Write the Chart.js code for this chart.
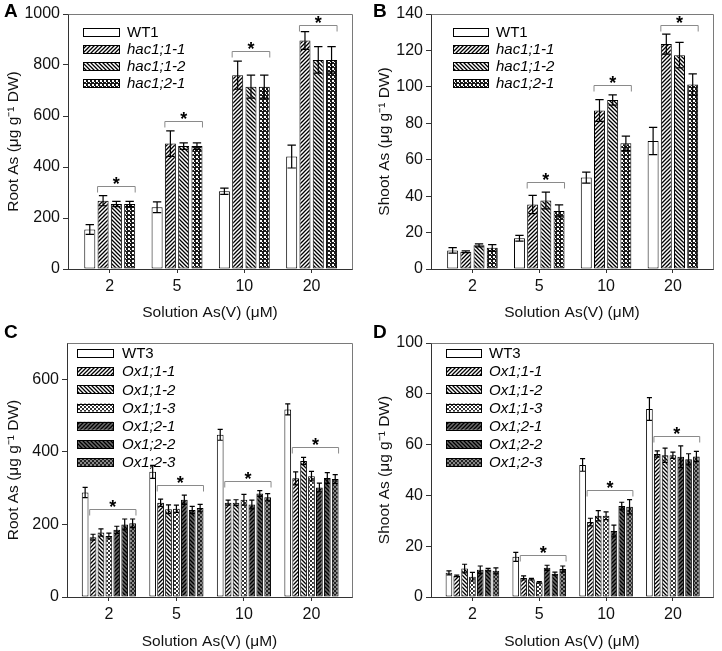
<!DOCTYPE html>
<html><head><meta charset="utf-8">
<script src="https://cdn.jsdelivr.net/npm/chart.js@4.4.1/dist/chart.umd.min.js"></script>
<style>
html,body{margin:0;padding:0;background:#fff;}
#wrap{position:relative;width:722px;height:651px;overflow:hidden;background:#fff;}
canvas{position:absolute;}
.lbl{position:absolute;font:bold 19px "Liberation Sans",Arial,sans-serif;color:#000;line-height:22px;}
</style></head><body>
<div id="wrap">
<canvas id="cA" width="361" height="322" style="left:0;top:0"></canvas>
<canvas id="cB" width="361" height="322" style="left:361px;top:0"></canvas>
<canvas id="cC" width="361" height="329" style="left:0;top:322px"></canvas>
<canvas id="cD" width="361" height="329" style="left:361px;top:322px"></canvas>
<div class="lbl" style="left:4px;top:0px">A</div>
<div class="lbl" style="left:373px;top:0px">B</div>
<div class="lbl" style="left:4px;top:321px">C</div>
<div class="lbl" style="left:373px;top:321px">D</div>
</div>
<script>
// ---------- data ----------
const CATEGORIES = ['2', '5', '10', '20'];
const X_TITLE = 'Solution As(V) (μM)';

// Panel A: Root As, hac1 lines
const A_NAMES = ['WT1', 'hac1;1-1', 'hac1;1-2', 'hac1;2-1'];
const A_WT1 = [155, 242, 305, 441];
const A_WT1_ERR = [19, 21, 12, 45];
const A_H11 = [268, 492, 760, 896];
const A_H11_ERR = [20, 50, 55, 35];
const A_H12 = [255, 482, 715, 820];
const A_H12_ERR = [10, 13, 45, 52];
const A_H21 = [255, 482, 715, 820];
const A_H21_ERR = [10, 13, 45, 52];
const A_SIG = [true, true, true, true];

// Panel B: Shoot As, hac1 lines
const B_NAMES = ['WT1', 'hac1;1-1', 'hac1;1-2', 'hac1;2-1'];
const B_WT1 = [10.2, 16.9, 50.2, 70.3];
const B_WT1_ERR = [1.5, 1.6, 3, 7.5];
const B_H11 = [9.5, 35.4, 87, 123.5];
const B_H11_ERR = [0.5, 5, 6, 5.5];
const B_H12 = [13, 37.6, 92.8, 117.4];
const B_H12_ERR = [0.8, 4.6, 2.8, 7];
const B_H21 = [11.6, 31.9, 69, 101.3];
const B_H21_ERR = [1.8, 3.3, 4, 5.8];
const B_SIG = [false, true, true, true];

// Panel C: Root As, Ox1 lines
const C_NAMES = ['WT3', 'Ox1;1-1', 'Ox1;1-2', 'Ox1;1-3', 'Ox1;2-1', 'Ox1;2-2', 'Ox1;2-3'];
const C_WT3 = [288, 345, 447, 517];
const C_WT3_ERR = [14, 18, 15, 15];
const C_O11 = [165, 260, 260, 327];
const C_O11_ERR = [8, 10, 7, 18];
const C_O12 = [178, 242, 260, 375];
const C_O12_ERR = [10, 12, 8, 10];
const C_O13 = [168, 243, 268, 333];
const C_O13_ERR = [8, 10, 15, 13];
const C_O21 = [185, 268, 255, 302];
const C_O21_ERR = [10, 13, 12, 12];
const C_O22 = [200, 240, 285, 328];
const C_O22_ERR = [15, 10, 8, 15];
const C_O23 = [203, 245, 275, 325];
const C_O23_ERR = [12, 10, 10, 12];
const C_SIG = [true, true, true, true];

// Panel D: Shoot As, Ox1 lines
const D_NAMES = ['WT3', 'Ox1;1-1', 'Ox1;1-2', 'Ox1;1-3', 'Ox1;2-1', 'Ox1;2-2', 'Ox1;2-3'];
const D_WT3 = [9.5, 15.8, 52, 74];
const D_WT3_ERR = [0.8, 1.8, 2.5, 4.5];
const D_O11 = [8.3, 7.5, 29.5, 56.3];
const D_O11_ERR = [0.3, 0.8, 1.5, 1.2];
const D_O12 = [11.2, 7, 32, 55.8];
const D_O12_ERR = [1.7, 0.3, 2, 2.8];
const D_O13 = [8, 5.8, 32, 55.8];
const D_O13_ERR = [1.7, 0.3, 1.5, 1.2];
const D_O21 = [10.7, 11.5, 26, 55.2];
const D_O21_ERR = [1.5, 1, 2.3, 4.3];
const D_O22 = [10.8, 9.2, 35.8, 54.2];
const D_O22_ERR = [0.5, 0.6, 1.5, 2.2];
const D_O23 = [10.3, 11, 35.5, 55.3];
const D_O23_ERR = [1.2, 1.2, 2.8, 2];
const D_SIG = [false, true, true, true];

// ---------- patterns ----------
const FONT = '"Liberation Sans", Arial, Helvetica, sans-serif';
function makePattern(kind) {
  const c = document.createElement('canvas');
  const s = 4;
  c.width = s; c.height = s;
  const g = c.getContext('2d');
  const dark = kind.endsWith('Dark');
  g.fillStyle = dark ? '#6a6a6a' : '#ffffff';
  g.fillRect(0, 0, s, s);
  if (kind === 'solid') return g.createPattern(c, 'repeat');
  g.strokeStyle = '#000';
  g.lineWidth = 1.3;
  if (kind.startsWith('fwd')) {
    g.beginPath();
    g.moveTo(-1, s + 1); g.lineTo(s + 1, -1);
    g.moveTo(-1, 1); g.lineTo(1, -1);
    g.moveTo(s - 1, s + 1); g.lineTo(s + 1, s - 1);
    g.stroke();
  } else if (kind.startsWith('back')) {
    g.beginPath();
    g.moveTo(-1, -1); g.lineTo(s + 1, s + 1);
    g.moveTo(s - 1, -1); g.lineTo(s + 1, 1);
    g.moveTo(-1, s - 1); g.lineTo(1, s + 1);
    g.stroke();
  } else if (kind === 'checkBlack') {
    g.fillStyle = '#1a1a1a'; g.fillRect(0, 0, s, s);
    g.fillStyle = '#fff'; g.fillRect(0, 0, 2, 2); g.fillRect(2, 2, 1, 1);
  } else if (kind === 'checkDark') {
    g.fillStyle = '#222'; g.fillRect(0, 0, s, s);
    g.fillStyle = '#888'; g.fillRect(0, 0, 2, 2); g.fillRect(2, 2, 2, 2);
  } else if (kind === 'check') {
    g.fillStyle = '#333'; g.fillRect(0, 0, 2, 2); g.fillRect(2, 2, 2, 2);
  }
  return g.createPattern(c, 'repeat');
}

// ---------- plugins ----------
const framePlugin = {
  id: 'frame',
  afterDraw(chart) {
    const { ctx, chartArea: a } = chart;
    ctx.save();
    ctx.strokeStyle = '#7a7a7a'; ctx.lineWidth = 1;
    ctx.beginPath();
    ctx.moveTo(Math.round(a.left) + 0.5, Math.round(a.top) + 0.5);
    ctx.lineTo(Math.round(a.right) + 0.5, Math.round(a.top) + 0.5);
    ctx.lineTo(Math.round(a.right) + 0.5, Math.round(a.bottom) + 0.5);
    ctx.stroke();
    ctx.restore();
  }
};

const errorBarPlugin = {
  id: 'errbars',
  afterDatasetsDraw(chart) {
    const ctx = chart.ctx, ys = chart.scales.y;
    chart.data.datasets.forEach((ds, di) => {
      const meta = chart.getDatasetMeta(di);
      meta.data.forEach((el, i) => {
        const v = ds.data[i].y, e = ds.errors[i];
        const t = ys.getPixelForValue(v + e), b = ys.getPixelForValue(v - e);
        const hw = el.width * 0.38;
        ctx.save();
        ctx.strokeStyle = '#000'; ctx.lineWidth = 1.2;
        ctx.beginPath();
        ctx.moveTo(el.x, t); ctx.lineTo(el.x, b);
        ctx.moveTo(el.x - hw, t); ctx.lineTo(el.x + hw, t);
        ctx.moveTo(el.x - hw, b); ctx.lineTo(el.x + hw, b);
        ctx.stroke();
        ctx.restore();
      });
    });
  }
};

const bracketPlugin = {
  id: 'sigBrackets',
  afterDatasetsDraw(chart, args, opts) {
    const ctx = chart.ctx, ys = chart.scales.y, area = chart.chartArea;
    (opts.show || []).forEach((on, i) => {
      if (!on) return;
      let left = Infinity, right = -Infinity, top = Infinity;
      chart.data.datasets.forEach((ds, di) => {
        if (di === 0) return;
        const el = chart.getDatasetMeta(di).data[i];
        left = Math.min(left, el.x - el.width / 2);
        right = Math.max(right, el.x + el.width / 2);
        top = Math.min(top, ys.getPixelForValue(ds.data[i].y + ds.errors[i]));
      });
      const y = Math.round(Math.max(area.top + 11, top - 10)) + 0.5;
      ctx.save();
      ctx.strokeStyle = '#8a8a8a'; ctx.lineWidth = 1;
      ctx.beginPath();
      ctx.moveTo(left, y + 6); ctx.lineTo(left, y); ctx.lineTo(right, y); ctx.lineTo(right, y + 6);
      ctx.stroke();
      ctx.fillStyle = '#000';
      ctx.font = 'bold 18px ' + FONT;
      ctx.textAlign = 'center'; ctx.textBaseline = 'alphabetic';
      ctx.fillText('*', (left + right) / 2, y + 3);
      ctx.restore();
    });
  }
};

const panelLegendPlugin = {
  id: 'panelLegend',
  afterDraw(chart, args, o) {
    const ctx = chart.ctx;
    chart.data.datasets.forEach((ds, i) => {
      const cy = o.y0 + i * o.step;
      ctx.save();
      ctx.fillStyle = ds.backgroundColor;
      ctx.fillRect(o.x, cy - o.boxH / 2, o.boxW, o.boxH);
      ctx.strokeStyle = '#000'; ctx.lineWidth = 1;
      ctx.strokeRect(o.x + 0.5, Math.round(cy - o.boxH / 2) + 0.5, o.boxW, o.boxH);
      ctx.fillStyle = '#000';
      ctx.font = (i === 0 ? '' : 'italic ') + '15px ' + FONT;
      ctx.textAlign = 'left'; ctx.textBaseline = 'middle';
      ctx.fillText(ds.label, o.x + o.boxW + o.gap, cy + 1);
      ctx.restore();
    });
  }
};

// ---------- chart builder ----------
function buildChart(id, cfg) {
  const datasets = cfg.names.map((name, k) => ({
    label: name,
    data: cfg.values[k].map((v, i) => ({ x: i + 1, y: v })),
    errors: cfg.errors[k],
    backgroundColor: makePattern(cfg.patterns[k]),
    borderColor: '#000',
    borderWidth: 1,
    borderSkipped: false,
    categoryPercentage: cfg.catPct,
    barPercentage: cfg.barPct
  }));
  return new Chart(document.getElementById(id), {
    type: 'bar',
    data: { datasets },
    plugins: [framePlugin, errorBarPlugin, bracketPlugin, panelLegendPlugin],
    options: {
      responsive: false, animation: false, devicePixelRatio: 1, events: [],
      layout: { padding: { top: cfg.padTop, right: 9, left: 0, bottom: 0 } },
      plugins: {
        legend: { display: false }, tooltip: { enabled: false },
        sigBrackets: { show: cfg.sig },
        panelLegend: cfg.legend
      },
      scales: {
        x: {
          type: 'linear', min: 0.38, max: 4.6, offset: false,
          afterBuildTicks: (s) => { s.ticks = CATEGORIES.map((c, i) => ({ value: i + 1 })); },
          afterFit: (s) => { s.height = cfg.xHeight; },
          ticks: { callback: (v) => CATEGORIES[v - 1], color: '#111', font: { family: FONT, size: 16 }, padding: 4, maxRotation: 0 },
          grid: { display: true, drawOnChartArea: false, drawTicks: true, tickLength: 4, color: '#333', offset: false },
          border: { display: true, color: '#333', width: 1 },
          title: { display: true, text: X_TITLE, color: '#111', font: { family: FONT, size: 15.5 }, padding: { top: 0, bottom: 0 } }
        },
        y: {
          min: 0, max: cfg.yMax,
          afterFit: (s) => { s.width = cfg.yWidth; },
          ticks: { stepSize: cfg.yStep, includeBounds: false, callback: (v) => String(v), color: '#111', font: { family: FONT, size: 16 }, padding: 3 },
          grid: { display: true, drawOnChartArea: false, drawTicks: true, tickLength: 5, color: '#333' },
          border: { display: true, color: '#333', width: 1 },
          title: { display: true, text: cfg.yTitle, color: '#111', font: { family: FONT, size: 15.5 }, padding: { top: cfg.yTitlePad, bottom: 0 } }
        }
      }
    }
  });
}

const HAC_PATTERNS = ['solid', 'fwd', 'back', 'checkBlack'];
const OX_PATTERNS = ['solid', 'fwd', 'back', 'check', 'fwdDark', 'backDark', 'checkDark'];

buildChart('cA', {
  names: A_NAMES, values: [A_WT1, A_H11, A_H12, A_H21], errors: [A_WT1_ERR, A_H11_ERR, A_H12_ERR, A_H21_ERR],
  patterns: HAC_PATTERNS, sig: A_SIG, catPct: 0.79, barPct: 0.83,
  yMax: 1000, yStep: 200, yTitle: 'Root As (μg g⁻¹ DW)', yTitlePad: 4, yWidth: 68,
  padTop: 14, xHeight: 53,
  legend: { x: 83, y0: 32, step: 17, boxW: 36, boxH: 8, gap: 8 }
});
buildChart('cB', {
  names: B_NAMES, values: [B_WT1, B_H11, B_H12, B_H21], errors: [B_WT1_ERR, B_H11_ERR, B_H12_ERR, B_H21_ERR],
  patterns: HAC_PATTERNS, sig: B_SIG, catPct: 0.79, barPct: 0.83,
  yMax: 140, yStep: 20, yTitle: 'Shoot As (μg g⁻¹ DW)', yTitlePad: 14, yWidth: 70,
  padTop: 14, xHeight: 53,
  legend: { x: 92, y0: 32, step: 17, boxW: 35, boxH: 8, gap: 8 }
});
buildChart('cC', {
  names: C_NAMES, values: [C_WT3, C_O11, C_O12, C_O13, C_O21, C_O22, C_O23],
  errors: [C_WT3_ERR, C_O11_ERR, C_O12_ERR, C_O13_ERR, C_O21_ERR, C_O22_ERR, C_O23_ERR],
  patterns: OX_PATTERNS, sig: C_SIG, catPct: 0.82, barPct: 0.85,
  yMax: 700, yStep: 200, yTitle: 'Root As (μg g⁻¹ DW)', yTitlePad: 4, yWidth: 67,
  padTop: 21, xHeight: 54,
  legend: { x: 77, y0: 31, step: 18.2, boxW: 36, boxH: 8, gap: 9 }
});
buildChart('cD', {
  names: D_NAMES, values: [D_WT3, D_O11, D_O12, D_O13, D_O21, D_O22, D_O23],
  errors: [D_WT3_ERR, D_O11_ERR, D_O12_ERR, D_O13_ERR, D_O21_ERR, D_O22_ERR, D_O23_ERR],
  patterns: OX_PATTERNS, sig: D_SIG, catPct: 0.82, barPct: 0.85,
  yMax: 100, yStep: 20, yTitle: 'Shoot As (μg g⁻¹ DW)', yTitlePad: 14, yWidth: 70,
  padTop: 21, xHeight: 54,
  legend: { x: 85, y0: 31, step: 18.2, boxW: 35, boxH: 8, gap: 8 }
});
</script>
</body></html>
